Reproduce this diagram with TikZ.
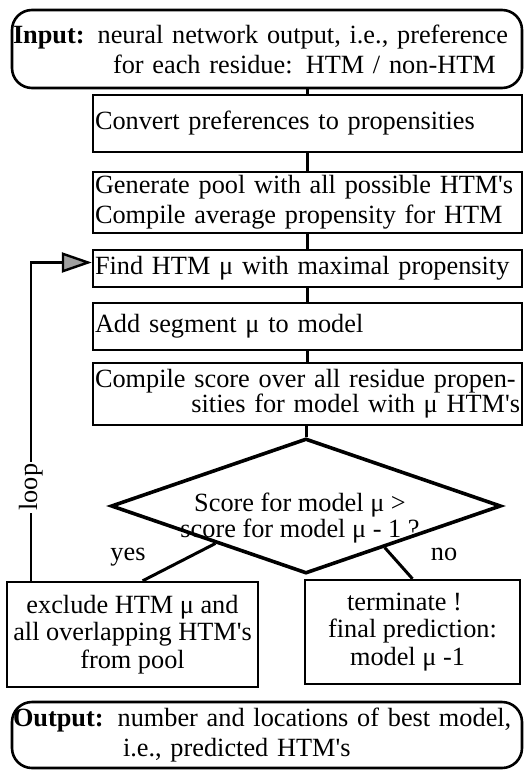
\documentclass[tikz,border=0pt]{standalone}
\usepackage{fontspec}
\setmainfont{Liberation Serif}[Ligatures=TeXOff]
\usetikzlibrary{shapes.geometric,arrows.meta,calc}
\begin{document}
\begin{tikzpicture}[x=1pt,y=-1pt,
  txt/.style={font=\fontsize{26.3}{30}\selectfont},
  box/.style={draw, line width=2.4pt, rectangle, inner xsep=2pt, inner ysep=0pt,
    minimum width=429pt, text width=425pt, align=left, txt},
  rbox/.style={draw, line width=2.6pt, rounded corners=20pt, inner xsep=1pt, inner ysep=0pt,
    minimum width=510pt, text width=508pt, align=left, txt},
  cbox/.style={draw, line width=2.4pt, inner sep=0pt, align=center,
    font=\fontsize{26.3}{27.5}\selectfont},
  conn/.style={line width=3pt},
  dec/.style={draw, diamond, line width=3.6pt, inner sep=0pt,
    minimum width=390pt, minimum height=135pt},
  lab/.style={txt, inner sep=0pt}
]
\useasboundingbox (0,0) rectangle (526,770);

\node[rbox, minimum height=78pt] (inp) at (267,49)
  {\mbox{\textbf{Input:}\hspace{13pt}neural network output, i.e., preference}\\\hspace*{100pt}\mbox{for each residue: HTM / non-HTM}};
\node[box, minimum height=57pt] (conv) at (307.5,123.5) {\mbox{Convert preferences to propensities}};
\node[box, minimum height=61pt] (gen) at (307.5,202.5)
  {\mbox{Generate pool with all possible HTM's}\\\mbox{Compile average propensity for HTM}};
\node[box, minimum height=37pt] (find) at (307.5,268.5) {\mbox{Find HTM μ with maximal propensity}};
\node[box, minimum height=47pt] (add) at (307.5,326.5) {\mbox{Add segment μ to model}};
\node[box, minimum height=62pt, font=\fontsize{26.3}{25}\selectfont] (score) at (307.5,394)
  {\mbox{Compile score over all residue propen-}\\\hspace*{\fill}\mbox{sities for model with μ HTM's}};

\node[dec] (dia) at (306,506) {};
\node[lab, align=center, font=\fontsize{26.3}{24}\selectfont] (q) at (300,518)
  {Score for model μ >\\score for model μ - 1 ?};

\node[cbox, minimum width=251pt, minimum height=105pt] (excl) at (132.5,634.5)
  {exclude HTM μ and\\all overlapping HTM's\\from pool};
\node[cbox, minimum width=215pt, minimum height=104pt] (term) at (412.5,632)
  {terminate !\hspace*{16pt}\\final prediction:\hspace*{16pt}\\model μ -1\hspace*{10pt}};

\node[rbox, minimum height=66pt] (outp) at (267,735)
  {\mbox{\textbf{Output:}\hspace{14pt}number and locations of best model,}\\\hspace*{110pt}\mbox{i.e., predicted HTM's}};

\foreach \a/\b in {inp/conv, conv/gen, gen/find, find/add, add/score}
  \draw[conn] (\b.north) -- (\b.north |- \a.south);
\draw[conn] (dia.north) -- (dia.north |- score.south);

\draw[conn] ($(dia.west)!0.54!(dia.south)$) -- ($(excl.north west)!0.54!(excl.north east)$);
\draw[conn] ($(dia.south)!0.4!(dia.east)$) -- (term.north);

\node[lab, anchor=base] (yes) at (128,560) {yes};
\node[lab, anchor=base] (no) at (444,560) {no};

\coordinate (lp) at ($(excl.north west)+(25,0)$);
\coordinate (lin) at ($(find.west)+(0,-6)$);
\draw[line width=2.4pt, -{Triangle[length=30pt,width=20pt,fill=gray!75]}]
  (lp) |- node[pos=0.147, lab, rotate=90, fill=white, inner xsep=2pt] (looplab) {loop} (lin);
\end{tikzpicture}
\end{document}
